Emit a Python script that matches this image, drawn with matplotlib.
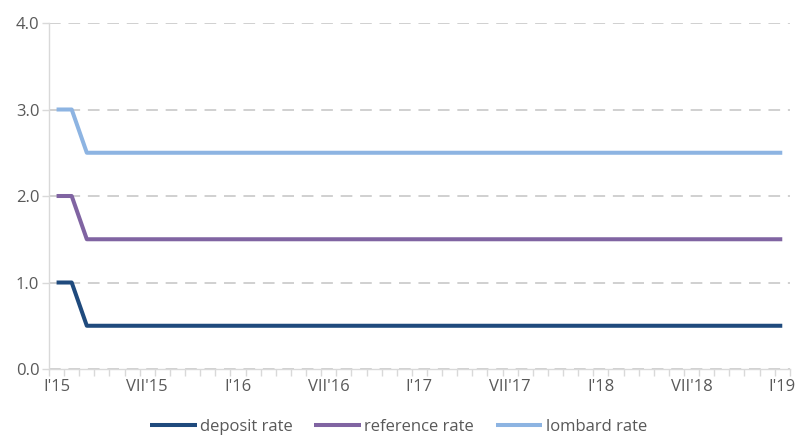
import matplotlib
matplotlib.use("Agg")
import matplotlib.pyplot as plt
from matplotlib.ticker import MultipleLocator, FixedLocator

plt.rcParams['font.family'] = ['Open Sans', 'DejaVu Sans']

# Monthly data, I'15 .. I'19 (49 months)
n_months = 49
deposit_rate = [1.0, 1.0] + [0.5] * 47
reference_rate = [2.0, 2.0] + [1.5] * 47
lombard_rate = [3.0, 3.0] + [2.5] * 47
tick_labels = ["I'15", "VII'15", "I'16", "VII'16", "I'17", "VII'17", "I'18", "VII'18", "I'19"]
series_names = ["deposit rate", "reference rate", "lombard rate"]
colors = ["#1F4A7D", "#8064A2", "#8DB4E2"]

fig = plt.figure(figsize=(7.97, 4.38), dpi=100)
ax = fig.add_axes([0.0615, 0.1575, 0.9295, 0.79])

x = list(range(n_months))
for vals, name, c in zip([deposit_rate, reference_rate, lombard_rate], series_names, colors):
    ax.plot(x, vals, color=c, lw=2.9, label=name, solid_joinstyle='round', solid_capstyle='butt')

ax.set_xlim(-0.5, n_months - 0.5)
ax.set_ylim(0, 4)
ax.yaxis.set_major_locator(MultipleLocator(1.0))
ax.yaxis.set_major_formatter(matplotlib.ticker.FormatStrFormatter('%.1f'))

ax.set_xticks(list(range(0, n_months, 6)))
ax.set_xticklabels(tick_labels)
ax.xaxis.set_minor_locator(FixedLocator([i - 0.5 for i in range(n_months + 1)]))
ax.tick_params(axis='x', which='major', length=0, pad=7, labelsize=12, labelcolor='#595959')
ax.tick_params(axis='x', which='minor', length=5, color='#D9D9D9', width=1)
ax.tick_params(axis='y', which='major', length=5, color='#D9D9D9', width=1, labelsize=12, labelcolor='#595959', pad=2)

ax.grid(axis='y', color='#D0D0D0', linestyle=(0, (6, 4)), lw=1.4)
ax.set_axisbelow(True)
for s in ['top', 'right']:
    ax.spines[s].set_visible(False)
for s in ['left', 'bottom']:
    ax.spines[s].set_color('#D9D9D9')
    ax.spines[s].set_linewidth(1)

fig.legend(loc='lower center', bbox_to_anchor=(0.5, -0.028), ncol=3, frameon=False,
           fontsize=12, handlelength=2.8, columnspacing=1.3, handletextpad=0.2,
           labelcolor='#595959')

fig.savefig("out.png", dpi=100)
